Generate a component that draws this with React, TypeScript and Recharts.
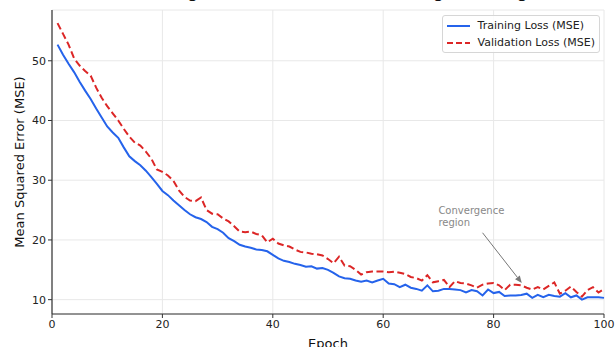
import React from "react"
import {
  LineChart,
  Line,
  XAxis,
  YAxis,
  CartesianGrid,
  Label,
  ReferenceLine,
  ReferenceDot,
} from "recharts"

const epochs = Array.from({ length: 100 }, (_, i) => i + 1)

const trainingLoss = [
  52.7, 51.0, 49.5, 48.1, 46.5, 45.0, 43.6, 42.0, 40.5, 39.0,
  38.0, 37.1, 35.5, 34.0, 33.2, 32.5, 31.6, 30.5, 29.4, 28.2,
  27.5, 26.6, 25.8, 25.0, 24.3, 23.8, 23.5, 23.0, 22.2, 21.8,
  21.2, 20.3, 19.8, 19.2, 18.9, 18.7, 18.4, 18.3, 18.1, 17.5,
  16.9, 16.5, 16.3, 16.0, 15.8, 15.5, 15.6, 15.2, 15.3, 15.0,
  14.5, 13.9, 13.6, 13.5, 13.2, 13.0, 13.2, 12.9, 13.2, 13.5,
  12.7, 12.6, 12.1, 12.5, 12.0, 11.8, 11.5, 12.4, 11.4, 11.5,
  11.8, 11.8, 11.7, 11.6, 11.2, 11.6, 11.4, 10.7, 11.7, 11.1,
  11.3, 10.6, 10.7, 10.7, 10.8, 11.0, 10.3, 10.8, 10.4, 10.8,
  10.6, 10.5, 11.1, 10.4, 10.7, 10.0, 10.4, 10.4, 10.4, 10.3,
]

const validationLoss = [
  56.3, 54.5, 52.7, 50.4, 49.2, 48.3, 47.5, 45.5, 43.8, 42.4,
  41.2, 40.0, 38.6, 37.3, 36.3, 35.8, 34.8, 33.6, 31.8, 31.4,
  30.8, 29.9, 28.3, 27.2, 26.6, 26.5, 27.1, 25.0, 24.4, 24.3,
  23.6, 23.1, 22.3, 21.4, 21.3, 21.4, 21.0, 20.8, 19.6, 20.2,
  19.4, 19.1, 18.9, 18.4, 18.0, 17.9, 17.7, 17.6, 17.4, 16.8,
  16.1, 17.2, 15.7, 15.6, 15.0, 14.2, 14.6, 14.7, 14.7, 14.7,
  14.6, 14.7, 14.5, 14.3, 13.8, 13.6, 13.2, 14.1, 12.9, 13.1,
  13.3, 12.1, 13.1, 12.8, 12.7, 12.4, 12.0, 12.5, 12.7, 12.8,
  12.4, 11.6, 12.5, 12.5, 12.4, 12.0, 11.7, 12.1, 11.7, 12.3,
  12.9, 11.0, 11.5, 12.2, 11.3, 10.5, 11.6, 12.1, 11.2, 11.8,
]

const xTicks = [0, 20, 40, 60, 80, 100]
const yTicks = [10, 20, 30, 40, 50]

const title = "Training and Validation Loss During Learning"
const noteText = ["Convergence", "region"]
const noteAt = { x: 70, y: 23.4 }
const arrowFrom = { x: 78, y: 21.2 }
const arrowTo = { x: 85.1, y: 12.8 }

const data = epochs.map((epoch, i) => ({
  epoch,
  train: trainingLoss[i],
  val: validationLoss[i],
}))

const FONT = "DejaVu Sans, sans-serif"
const BLUE = "#2563eb"
const RED = "#dc2626"

const legendItems = [
  { label: "Training Loss (MSE)", color: BLUE, dash: undefined },
  { label: "Validation Loss (MSE)", color: RED, dash: "6 3" },
]

function LegendBox() {
  return (
    <div
      style={{
        position: "absolute",
        top: 15,
        right: 16,
        background: "rgba(255,255,255,0.85)",
        border: "1px solid #d6d6d6",
        borderRadius: 3,
        padding: "1px 4px 1px 2px",
        fontFamily: FONT,
        fontSize: 11,
        color: "#222",
      }}
    >
      {legendItems.map((it) => (
        <div key={it.label} style={{ display: "flex", alignItems: "center", height: 17 }}>
          <svg width={26} height={8} style={{ marginRight: 7 }}>
            <line x1={2} y1={4} x2={25} y2={4} stroke={it.color} strokeWidth={2} strokeDasharray={it.dash} />
          </svg>
          <span>{it.label}</span>
        </div>
      ))}
    </div>
  )
}

function Arrow(props: any) {
  const { x1, y1, x2, y2 } = props
  const ang = Math.atan2(y2 - y1, x2 - x1)
  const len = 7
  const w = 3
  const bx = x2 - len * Math.cos(ang)
  const by = y2 - len * Math.sin(ang)
  const px = -Math.sin(ang) * w
  const py = Math.cos(ang) * w
  return (
    <g>
      <line x1={x1} y1={y1} x2={bx} y2={by} stroke="#777" strokeWidth={1} />
      <polygon points={`${x2},${y2} ${bx + px},${by + py} ${bx - px},${by - py}`} fill="#777" />
    </g>
  )
}

function Note(props: any) {
  const { cx, cy } = props
  return (
    <text x={cx} y={cy} fill="#888" fontSize={10} fontFamily={FONT}>
      <tspan x={cx} dy={-6}>{noteText[0]}</tspan>
      <tspan x={cx} dy={12}>{noteText[1]}</tspan>
    </text>
  )
}

export default function App() {
  return (
    <div style={{ position: "fixed", left: 0, top: 0, width: 616, height: 347, background: "#fff", overflow: "hidden" }}>
      <div
        style={{
          position: "absolute",
          top: -20,
          left: 0,
          width: 656,
          textAlign: "center",
          fontFamily: FONT,
          fontSize: 18,
          color: "#111",
        }}
      >
        {title}
      </div>
      <LineChart width={616} height={347} data={data} margin={{ top: 10, right: 12, left: 0, bottom: 0 }}>
        <CartesianGrid stroke="#e8e8e8" strokeWidth={1} />
        <XAxis
          dataKey="epoch"
          type="number"
          domain={[0, 100]}
          ticks={xTicks}
          height={33}
          tick={{ fill: "#222", fontSize: 11, fontFamily: FONT }}
          tickSize={4}
          tickLine={{ stroke: "#333" }}
          axisLine={{ stroke: "#333", strokeWidth: 1.2 }}
        >
          <Label value="Epoch" position="insideBottom" offset={-1} style={{ fill: "#111", fontSize: 13, fontFamily: FONT }} />
        </XAxis>
        <YAxis
          type="number"
          domain={[7.6, 58.5]}
          ticks={yTicks}
          allowDataOverflow
          width={52}
          tick={{ fill: "#222", fontSize: 11, fontFamily: FONT }}
          tickSize={4}
          tickLine={{ stroke: "#333" }}
          axisLine={{ stroke: "#333", strokeWidth: 1.2 }}
        >
          <Label
            value="Mean Squared Error (MSE)"
            angle={-90}
            position="insideLeft"
            offset={19}
            style={{ fill: "#111", fontSize: 13, fontFamily: FONT, textAnchor: "middle" }}
          />
        </YAxis>
        <Line
          type="linear"
          dataKey="val"
          name="Validation Loss (MSE)"
          stroke={RED}
          strokeWidth={2}
          strokeDasharray="7 3.5"
          dot={false}
          isAnimationActive={false}
        />
        <Line
          type="linear"
          dataKey="train"
          name="Training Loss (MSE)"
          stroke={BLUE}
          strokeWidth={2}
          dot={false}
          isAnimationActive={false}
        />
        <ReferenceLine
          segment={[arrowFrom, arrowTo]}
          ifOverflow="visible"
          shape={<Arrow />}
        />
        <ReferenceDot x={noteAt.x} y={noteAt.y} r={0} ifOverflow="visible" shape={<Note />} />
      </LineChart>
      <LegendBox />
    </div>
  )
}
